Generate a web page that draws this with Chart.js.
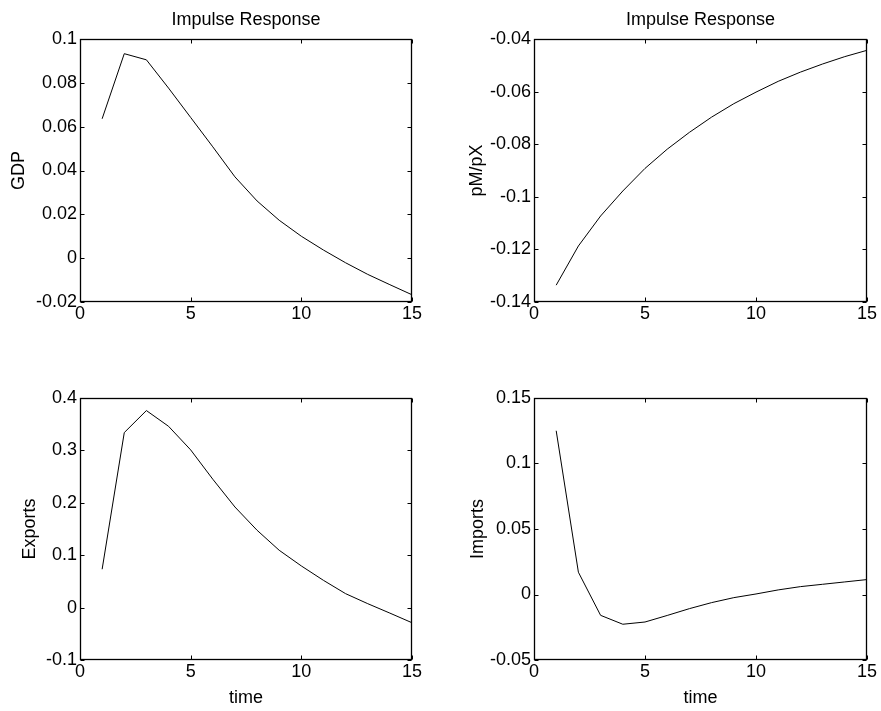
<!DOCTYPE html>
<html>
<head>
<meta charset="utf-8">
<script src="https://cdn.jsdelivr.net/npm/chart.js@4/dist/chart.umd.min.js"></script>
<style>
    body { margin: 0; background: #fff; }
    canvas { position: absolute; }
</style>
</head>
<body>
<canvas id="graphGdp"     width="440" height="350" style="left:0;top:0"></canvas>
<canvas id="graphPrix"    width="441" height="350" style="left:440px;top:0"></canvas>
<canvas id="graphExports" width="440" height="361" style="left:0;top:350px"></canvas>
<canvas id="graphImports" width="441" height="361" style="left:440px;top:350px"></canvas>
<script>
// periods of the impulse response
const TIME = [1, 2, 3, 4, 5, 6, 7, 8, 9, 10, 11, 12, 13, 14, 15];

// responses
const GDP       = [0.0636, 0.0933, 0.0905, 0.0776, 0.0642, 0.0508, 0.0371, 0.0261, 0.0173, 0.0100, 0.0037, -0.0021, -0.0074, -0.0121, -0.0167];
const PM_PX     = [-0.1336, -0.1187, -0.1073, -0.0978, -0.0892, -0.0819, -0.0755, -0.0697, -0.0646, -0.0602, -0.0561, -0.0526, -0.0495, -0.0467, -0.0443];
const EXPORTS   = [0.0732, 0.334, 0.376, 0.346, 0.301, 0.245, 0.192, 0.1476, 0.1094, 0.0795, 0.052, 0.0266, 0.0075, -0.0105, -0.0289];
const IMPORTS   = [0.125, 0.017, -0.0159, -0.0227, -0.021, -0.016, -0.0108, -0.0062, -0.0024, 0.0004, 0.0035, 0.006, 0.0078, 0.0096, 0.0114];

// tick values
const TICKS_X       = [0, 5, 10, 15];
const TICKS_GDP     = [-0.02, 0, 0.02, 0.04, 0.06, 0.08, 0.1];
const TICKS_PM_PX   = [-0.14, -0.12, -0.1, -0.08, -0.06, -0.04];
const TICKS_EXPORTS = [-0.1, 0, 0.1, 0.2, 0.3, 0.4];
const TICKS_IMPORTS = [-0.05, 0, 0.05, 0.1, 0.15];

const POLICE = { family: '"Liberation Sans", Arial, sans-serif', size: 18 };

Chart.defaults.font.family = POLICE.family;
Chart.defaults.font.size   = POLICE.size;
Chart.defaults.color       = '#000';

// box round the plot area and small ticks pointing inwards, matlab style
const cadre = {
    id: 'cadre',
    afterDraw(chart) {
        const { ctx, chartArea: a, scales } = chart;
        const l = Math.round(a.left) + 0.5, r = Math.round(a.right) - 0.5;
        const t = Math.round(a.top) + 0.5,  b = Math.round(a.bottom) - 0.5;
        ctx.save();
        ctx.strokeStyle = '#000';
        ctx.lineWidth = 1;
        ctx.beginPath();
        scales.x.ticks.forEach(tk => {
            const px = Math.round(scales.x.getPixelForValue(tk.value)) + 0.5;
            ctx.moveTo(px, b); ctx.lineTo(px, b - 4);
            ctx.moveTo(px, t); ctx.lineTo(px, t + 4);
        });
        scales.y.ticks.forEach(tk => {
            const py = Math.round(scales.y.getPixelForValue(tk.value)) + 0.5;
            ctx.moveTo(l, py); ctx.lineTo(l + 4, py);
            ctx.moveTo(r, py); ctx.lineTo(r - 4, py);
        });
        ctx.stroke();
        ctx.lineWidth = 1.3;
        ctx.strokeRect(l, t, r - l, b - t);
        ctx.restore();
    }
};

/**
 * Builds one subplot.
 * g = geometry: yWidth (left axis width), xHeight, padRight, padTop, ylabelPad
 */
function creerGraphique(idCanvas, valeurs, ticksY, labelY, avecTitre, avecTime, g) {
    const points = TIME.map((t, i) => ({ x: t, y: valeurs[i] }));

    new Chart(document.getElementById(idCanvas), {
        type : 'line',
        data : {
            datasets : [{
                data        : points,
                borderColor : '#000',
                borderWidth : 1,
                pointRadius : 0,
                tension     : 0,
                fill        : false
            }]
        },
        options : {
            responsive : false,
            animation  : false,
            layout     : { padding: { left: 0, right: g.padRight, top: g.padTop, bottom: 0 } },
            plugins : {
                legend  : { display: false },
                tooltip : { enabled: false },
                title   : {
                    display  : avecTitre,
                    text     : 'Impulse Response',
                    fullSize : false,
                    font     : { size: POLICE.size, lineHeight: 1, weight: 'normal' },
                    padding  : { top: 11, bottom: 10 },
                    color    : '#000'
                }
            },
            scales : {
                x : {
                    type   : 'linear',
                    min    : 0,
                    max    : 15,
                    grid   : { display: false, drawTicks: false },
                    border : { display: false },
                    afterBuildTicks : s => { s.ticks = TICKS_X.map(v => ({ value: v })); },
                    afterFit        : s => { s.height = g.xHeight; },
                    ticks  : { padding: 1, maxRotation: 0, callback: v => String(v) },
                    title  : {
                        display : avecTime,
                        text    : 'time',
                        font    : { size: POLICE.size, lineHeight: 1 },
                        padding : { top: 0, bottom: 4.3 }
                    }
                },
                y : {
                    min    : ticksY[0],
                    max    : ticksY[ticksY.length - 1],
                    grid   : { display: false, drawTicks: false },
                    border : { display: false },
                    afterBuildTicks : s => { s.ticks = ticksY.map(v => ({ value: v })); },
                    afterFit        : s => { s.width = g.yWidth; },
                    ticks  : { padding: 3, callback: v => String(v) },
                    title  : {
                        display : true,
                        text    : labelY,
                        font    : { size: POLICE.size, lineHeight: 1 },
                        padding : { top: g.ylabelPad, bottom: 0 }
                    }
                }
            }
        },
        plugins : [cadre]
    });
}

function dessinerTout() {
    creerGraphique('graphGdp', GDP, TICKS_GDP, 'GDP', true, false,
        { yWidth: 80, xHeight: 48, padRight: 28, padTop: 0, ylabelPad: 10 });
    creerGraphique('graphPrix', PM_PX, TICKS_PM_PX, 'pM/pX', true, false,
        { yWidth: 94, xHeight: 48, padRight: 14, padTop: 0, ylabelPad: 28 });
    creerGraphique('graphExports', EXPORTS, TICKS_EXPORTS, 'Exports', false, true,
        { yWidth: 80, xHeight: 51, padRight: 28, padTop: 48, ylabelPad: 21 });
    creerGraphique('graphImports', IMPORTS, TICKS_IMPORTS, 'Imports', false, true,
        { yWidth: 94, xHeight: 51, padRight: 14, padTop: 48, ylabelPad: 29 });
}

document.addEventListener('DOMContentLoaded', dessinerTout);
</script>
</body>
</html>
